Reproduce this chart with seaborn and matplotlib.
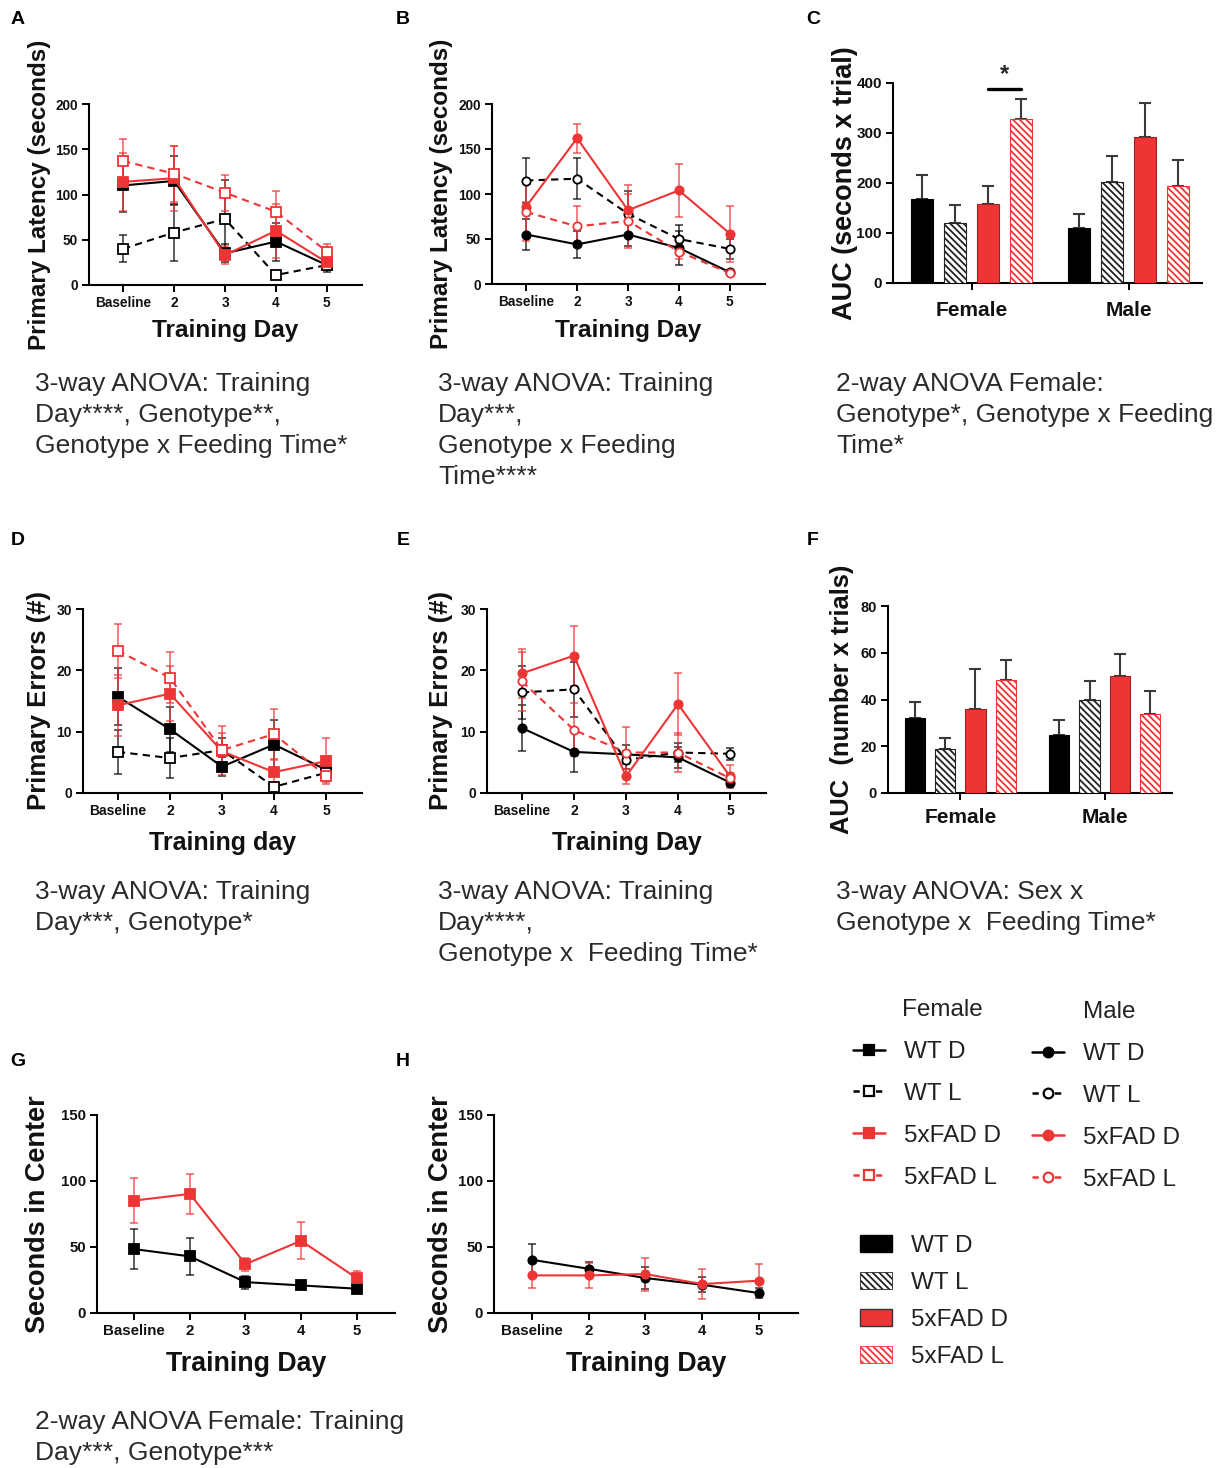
import numpy as np
import pandas as pd
import matplotlib
matplotlib.use("Agg")
import matplotlib.pyplot as plt
import seaborn as sns
from matplotlib.lines import Line2D
from matplotlib.patches import Patch

# ---- data ----
days = ["Baseline", "2", "3", "4", "5"]
groups = ["WT D", "WT L", "5xFAD D", "5xFAD L"]
sexes = ["Female", "Male"]

# A: primary latency, female (rows follow `groups`)
lat_female = [[110, 115, 35, 48, 22],
              [40, 58, 73, 11, 22],
              [114, 118, 33, 60, 25],
              [137, 123, 102, 81, 37]]
lat_female_sem = [[29, 27, 10, 21, 8],
                  [15, 31, 43, 2, 5],
                  [32, 36, 10, 30, 8],
                  [24, 31, 20, 23, 8]]

# B: primary latency, male
lat_male = [[55, 44, 55, 40, 13],
            [115, 117, 78, 50, 39],
            [86, 162, 82, 104, 56],
            [80, 64, 70, 36, 12]]
lat_male_sem = [[17, 15, 13, 19, 3],
                [25, 23, 25, 16, 11],
                [5, 16, 28, 29, 31],
                [32, 23, 30, 8, 2]]

# C: AUC of latency
auc_lat_female = [167, 120, 157, 327]
auc_lat_female_sem = [49, 35, 36, 40]
auc_lat_male = [109, 202, 292, 193]
auc_lat_male_sem = [29, 52, 68, 53]
auc_lat_sig_y = 388

# D: primary errors, female
err_female = [[15.7, 10.4, 4.3, 7.9, 3.8],
              [6.7, 5.7, 7.0, 1.0, 3.3],
              [14.3, 16.2, 6.8, 3.4, 5.2],
              [23.2, 18.8, 7.0, 9.6, 2.8]]
err_female_sem = [[4.6, 3.7, 1.5, 4.0, 1.5],
                  [3.6, 3.2, 2.0, 0.5, 1.0],
                  [5.0, 4.5, 3.0, 2.0, 3.7],
                  [4.4, 4.2, 4.0, 4.1, 1.0]]

# E: primary errors, male
err_male = [[10.6, 6.7, 6.3, 5.8, 1.7],
            [16.4, 16.9, 5.4, 6.6, 6.4],
            [19.5, 22.4, 2.7, 14.5, 2.7],
            [18.2, 10.3, 6.6, 6.6, 2.4]]
err_male_sem = [[3.7, 3.3, 1.5, 1.7, 0.6],
                [4.3, 4.5, 1.5, 1.5, 1.0],
                [4.0, 4.9, 1.2, 5.1, 1.9],
                [4.8, 4.3, 4.1, 3.2, 0.8]]

# F: AUC of errors
auc_err_female = [32.0, 18.8, 36.1, 48.3]
auc_err_female_sem = [6.9, 4.9, 16.9, 8.7]
auc_err_male = [24.7, 39.9, 50.1, 33.8]
auc_err_male_sem = [6.7, 8.0, 9.4, 10.0]

# G / H: seconds in center (WT, 5xFAD)
center_groups = ["WT", "5xFAD"]
center_female = [[48.4, 42.9, 23.4, 20.9, 18.4],
                 [85.2, 90.2, 37.0, 54.7, 26.5]]
center_female_sem = [[15, 14, 5, 3, 2],
                     [17, 15, 5, 14, 5.5]]
center_male = [[40.3, 33.5, 26.5, 21.4, 15.1],
               [28.5, 28.5, 29.5, 21.9, 24.5]]
center_male_sem = [[11.7, 5.5, 8.5, 5.5, 4],
                   [9.5, 9.3, 12.5, 11.5, 12.7]]

captions = {
    "A": "3-way ANOVA: Training\nDay****, Genotype**,\nGenotype x Feeding Time*",
    "B": "3-way ANOVA: Training\nDay***,\nGenotype x Feeding\nTime****",
    "C": "2-way ANOVA Female:\nGenotype*, Genotype x Feeding\nTime*",
    "D": "3-way ANOVA: Training\nDay***, Genotype*",
    "E": "3-way ANOVA: Training\nDay****,\nGenotype x  Feeding Time*",
    "F": "3-way ANOVA: Sex x\nGenotype x  Feeding Time*",
    "G": "2-way ANOVA Female: Training\nDay***, Genotype***",
}

# ---- style ----
RED = "#EE3535"
sns.set_theme(style="ticks")
plt.rcParams["font.family"] = ["Liberation Sans", "DejaVu Sans"]
plt.rcParams["hatch.linewidth"] = 1.3
plt.rcParams["axes.linewidth"] = 1.5

W, H = 1227, 1468
fig = plt.figure(figsize=(W / 100, H / 100), dpi=100)


def add_axes(x0, x1, ytop, ybot):
    return fig.add_axes([x0 / W, 1 - ybot / H, (x1 - x0) / W, (ybot - ytop) / H])


def style_axes(ax, box, yticks, ylabel, ylab_right, ylab_size, tick_size, pad):
    x0, x1, ytop, ybot = box
    sns.despine(ax=ax)
    for s in ["left", "bottom"]:
        ax.spines[s].set_color("black")
        ax.spines[s].set_linewidth(1.5)
    ax.tick_params(axis="both", direction="out", length=5, width=1.4,
                   color="black", pad=pad)
    ax.set_yticks(yticks)
    ax.set_yticklabels([str(t) for t in yticks], fontsize=tick_size,
                       fontweight="bold", color="#111111")
    ax.set_ylim(0, yticks[-1])
    ax.set_ylabel(ylabel, fontsize=ylab_size, fontweight="bold", color="#111111")
    ax.yaxis.set_label_coords((ylab_right - x0) / (x1 - x0), 0.5)
    ax.set_facecolor("white")


def line_panel(box, means, sems, names, marker, yticks, ylabel, ylab_right,
               ylab_size, xlabel, xlab_top, lab_size, tick_size):
    ax = add_axes(*box)
    x = np.arange(len(days))
    for i, g in enumerate(names):
        col = RED if g.startswith("5xFAD") else "black"
        dashed = g.endswith("L")
        ax.errorbar(x, means[i], yerr=sems[i], fmt="none", ecolor=col,
                    elinewidth=1.1, capsize=3, capthick=1.1, alpha=0.8,
                    zorder=2, clip_on=False)
        sns.lineplot(x=x, y=means[i], ax=ax, color=col,
                     linestyle=(0, (3.5, 2.5)) if dashed else "-",
                     marker=marker, markersize=6.5 if marker == "s" else 6,
                     markerfacecolor="white" if dashed else col,
                     markeredgecolor=col, markeredgewidth=1.3,
                     linewidth=1.5, zorder=3, clip_on=False)
    ax.set_xlim(-0.67, len(days) - 1 + 0.69)
    ax.set_xticks(x)
    ax.set_xticklabels(days, fontsize=tick_size, fontweight="bold", color="#111111")
    style_axes(ax, box, yticks, ylabel, ylab_right, ylab_size, tick_size, 3)
    ax.set_xlabel(xlabel, fontsize=lab_size, fontweight="bold", color="#111111")
    ax.xaxis.set_label_coords(0.5, -(xlab_top - box[3]) / (box[3] - box[2]))
    return ax


def bar_panel(box, fem, fem_sem, mal, mal_sem, yticks, ylabel, ylab_right,
              ylab_size, tick_size, xtick_size, xpad):
    ax = add_axes(*box)
    df = pd.DataFrame({"sex": np.repeat(sexes, len(groups)),
                       "group": np.tile(groups, len(sexes)),
                       "value": list(fem) + list(mal)})
    pal = {"WT D": "black", "WT L": "white", "5xFAD D": RED, "5xFAD L": "white"}
    sns.barplot(data=df, x="sex", y="value", hue="group", hue_order=groups,
                palette=pal, saturation=1, width=0.84, gap=0.33,
                errorbar=None, legend=False, ax=ax, zorder=3)
    bars = sorted([p for p in ax.patches if p.get_width() > 0], key=lambda p: p.get_x())
    sem = list(fem_sem) + list(mal_sem)
    edge = {"WT D": "black", "WT L": "#222222", "5xFAD D": "#992222", "5xFAD L": RED}
    centers = []
    for i, p in enumerate(bars):
        g = groups[i % len(groups)]
        p.set_edgecolor(edge[g])
        p.set_linewidth(0.8)
        if g.endswith("L"):
            p.set_hatch("\\\\\\\\\\")
        centers.append(p.get_x() + p.get_width() / 2)
    heights = [p.get_height() for p in bars]
    ax.errorbar(centers, heights, yerr=[np.zeros(len(sem)), sem], fmt="none",
                ecolor="#3a3a3a", elinewidth=1.5, capsize=4, capthick=1.5, zorder=2)
    ax.set_xlim(-0.5, 1.465)
    ax.set_xticks([0, 1])
    ax.set_xticklabels(sexes, fontsize=xtick_size, fontweight="bold", color="#111111")
    style_axes(ax, box, yticks, ylabel, ylab_right, ylab_size, tick_size, 3)
    ax.tick_params(axis="x", pad=xpad)
    ax.set_xlabel("")
    return ax, centers


# ---- panels ----
boxA = (89, 362, 104, 285)
boxB = (492, 765, 104, 284)
boxC = (893, 1202, 83, 283)
boxD = (83, 362, 609, 793)
boxE = (487, 766, 609, 793)
boxF = (888, 1172, 606, 793)
boxG = (97, 395, 1115, 1313)
boxH = (494, 798, 1115, 1313)

line_panel(boxA, lat_female, lat_female_sem, groups, "s", [0, 50, 100, 150, 200],
           "Primary Latency (seconds)", 51, 17.5, "Training Day", 319, 17.6, 9.8)
line_panel(boxB, lat_male, lat_male_sem, groups, "o", [0, 50, 100, 150, 200],
           "Primary Latency (seconds)", 453, 17.5, "Training Day", 319, 17.6, 9.8)
axC, cC = bar_panel(boxC, auc_lat_female, auc_lat_female_sem, auc_lat_male,
                    auc_lat_male_sem, [0, 100, 200, 300, 400],
                    "AUC (seconds x trial)", 858, 19.5, 11, 15, 8)
axC.plot([cC[2], cC[3]], [auc_lat_sig_y, auc_lat_sig_y], color="black", lw=2.4,
         clip_on=False, zorder=4)
axC.text((cC[2] + cC[3]) / 2, auc_lat_sig_y + 6, "*", ha="center", va="bottom",
         fontsize=17, fontweight="bold", clip_on=False)

line_panel(boxD, err_female, err_female_sem, groups, "s", [0, 10, 20, 30],
           "Primary Errors (#)", 51, 18.5, "Training day", 831, 18, 10)
line_panel(boxE, err_male, err_male_sem, groups, "o", [0, 10, 20, 30],
           "Primary Errors (#)", 453, 18.5, "Training Day", 831, 18, 10)
bar_panel(boxF, auc_err_female, auc_err_female_sem, auc_err_male, auc_err_male_sem,
          [0, 20, 40, 60, 80], "AUC  (number x trials)", 854, 18.4, 10.5, 15, 6)

line_panel(boxG, center_female, center_female_sem, ["WT D", "5xFAD D"], "s",
           [0, 50, 100, 150], "Seconds in Center", 51, 19.5, "Training Day", 1351, 19.3, 10.8)
line_panel(boxH, center_male, center_male_sem, ["WT D", "5xFAD D"], "o",
           [0, 50, 100, 150], "Seconds in Center", 454, 19.5, "Training Day", 1351, 19.3, 10.8)

# ---- panel letters ----
letters = {"A": (18, 20), "B": (403, 20), "C": (813, 20),
           "D": (18, 541), "E": (403, 541), "F": (813, 541),
           "G": (18, 1062), "H": (403, 1062)}
for k, (px, py) in letters.items():
    fig.text(px / W, 1 - py / H, k, ha="center", va="center",
             fontsize=14, fontweight="bold", color="black")

# ---- captions ----
cap_pos = {"A": (35, 372), "B": (438, 372), "C": (836, 372),
           "D": (35, 880), "E": (438, 880), "F": (836, 880), "G": (35, 1410)}
for k, (px, py) in cap_pos.items():
    fig.text(px / W, 1 - py / H, captions[k], ha="left", va="top",
             fontsize=19, color="#2b2b2b", linespacing=1.37)

# ---- legends ----
def line_handle(g, marker):
    col = RED if g.startswith("5xFAD") else "black"
    dashed = g.endswith("L")
    return Line2D([], [], color=col, linestyle=(0, (2.5, 2.0)) if dashed else "-",
                  linewidth=1.8, marker=marker, markersize=7,
                  markerfacecolor="white" if dashed else col,
                  markeredgecolor=col, markeredgewidth=1.6)


leg_kw = dict(frameon=False, fontsize=17.5, handlelength=1.3, handletextpad=0.8,
              labelspacing=0.82, borderpad=0, borderaxespad=0, loc="upper left")
for labx, hx, marker, title, top in [(902, 853, "s", "Female", 1041),
                                     (1083, 1032, "o", "Male", 1043)]:
    fig.text(labx / W, 1 - (top - 31) / H, title, ha="left", va="center",
             fontsize=17.5, color="#222222")
    leg = fig.legend([line_handle(g, marker) for g in groups], groups,
                     bbox_to_anchor=(hx / W, 1 - top / H), **leg_kw)
    for t in leg.get_texts():
        t.set_color("#222222")

bar_handles = [Patch(facecolor="black", edgecolor="black"),
               Patch(facecolor="white", edgecolor="#222222", hatch="\\\\\\\\\\", linewidth=0.6),
               Patch(facecolor=RED, edgecolor="#333333"),
               Patch(facecolor="white", edgecolor=RED, hatch="\\\\\\\\\\", linewidth=0.6)]
leg = fig.legend(bar_handles, groups, bbox_to_anchor=(860 / W, 1 - 1235 / H),
                 **dict(leg_kw, labelspacing=0.62))
for t in leg.get_texts():
    t.set_color("#222222")

fig.savefig("out.png", dpi=100, facecolor="white")
